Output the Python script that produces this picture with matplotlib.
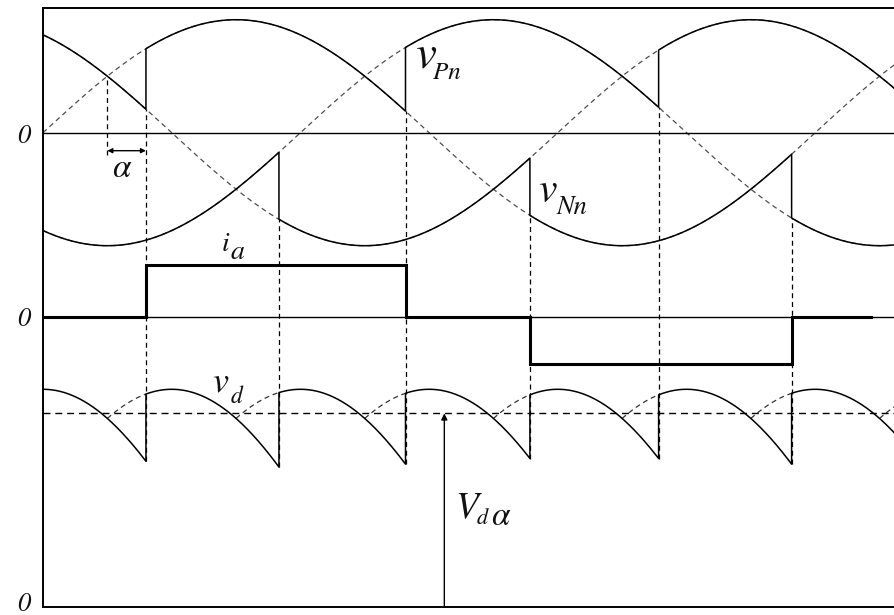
import numpy as np
import matplotlib.pyplot as plt

# three phase voltages, 1 p.u. amplitude, shifted in degrees
phase_names = ['a', 'b', 'c']
phase_shift = [0, 120, 240]

# upper (P) thyristor group: firing instants and phase taking over (deg)
pos_fire = [48, 169, 287, 408]
pos_phase = ['a', 'b', 'c', 'a']
pos_nat = [30, 150, 270, 390]
pos_first = 'c'
# lower (N) thyristor group
neg_fire = [110, 227, 349]
neg_phase = ['c', 'a', 'b']
neg_nat = [90, 210, 330]
neg_first = 'b'

# line current i_a (step levels between edges)
ia_edges = [0, 48, 169, 227, 349, 386]
ia_level = [0, 1.03, 0, -0.95, 0]

# mean dc voltage, same units as v_d
vd_mean = 1.54

# layout of the three stacked traces
T_MAX = 397.2
PH_ZERO, PH_AMP = 474.3, 113
IA_ZERO, IA_AMP = 290.3, 50
VD_AMP = 125.7

shift = dict(zip(phase_names, phase_shift))


def ph(name, th):
    return np.sin(np.radians(np.asarray(th, dtype=float) - shift[name]))


def group_at(th, first, fires, names):
    cur = first
    for f, n in zip(fires, names):
        if th >= f:
            cur = n
    return cur


def P_at(th):
    return group_at(th, pos_first, pos_fire, pos_phase)


def N_at(th):
    return group_at(th, neg_first, neg_fire, neg_phase)


W, H = 895, 615
fig = plt.figure(figsize=(W / 100, H / 100), dpi=100)
ax = fig.add_axes([43 / W, 8 / H, 1 - 43 / W, 599 / H])
ax.set_xlim(0, T_MAX)
ax.set_ylim(0, 599)
ax.set_xticks([])
ax.set_yticks([])
ax.spines['right'].set_visible(False)
for s in ['left', 'top', 'bottom']:
    ax.spines[s].set_linewidth(1.4)

dash_thin = (0, (4, 3))
th_all = np.linspace(0, T_MAX, 800)

# full phase voltages, dashed
for n in phase_names:
    ax.plot(th_all, PH_ZERO + PH_AMP * ph(n, th_all), color='#4d4d4d',
            lw=0.9, ls=dash_thin, zorder=1)

ax.axhline(PH_ZERO, color='k', lw=1.0, zorder=2)
ax.axhline(IA_ZERO, color='k', lw=1.0, zorder=2)


def envelope(first, fires, names):
    edges = [0] + [f for f in fires if f < T_MAX] + [T_MAX]
    seq = [first] + names
    xs, ys = [], []
    for i in range(len(edges) - 1):
        t = np.linspace(edges[i], edges[i + 1], 200)
        xs.append(t)
        ys.append(ph(seq[i], t))
    return np.concatenate(xs), np.concatenate(ys)


x, y = envelope(pos_first, pos_fire, pos_phase)
ax.plot(x, PH_ZERO + PH_AMP * y, color='k', lw=1.1, zorder=3)
x, y = envelope(neg_first, neg_fire, neg_phase)
ax.plot(x, PH_ZERO + PH_AMP * y, color='k', lw=1.1, zorder=3)

# dc voltage v_d = v_Pn - v_Nn
events = sorted([f for f in pos_fire + neg_fire if f < T_MAX])
edges = [0] + events + [T_MAX]
xs, ys = [], []
for i in range(len(edges) - 1):
    t = np.linspace(edges[i], edges[i + 1], 200)
    mid = 0.5 * (edges[i] + edges[i + 1])
    xs.append(t)
    ys.append(ph(P_at(mid), t) - ph(N_at(mid), t))
ax.plot(np.concatenate(xs), VD_AMP * np.concatenate(ys), color='k', lw=1.1, zorder=3)

# next line voltage from natural commutation up to firing, dashed
for nat, f, newp in zip(pos_nat, pos_fire, pos_phase):
    if nat < T_MAX:
        t = np.linspace(nat, min(f, T_MAX), 60)
        ax.plot(t, VD_AMP * (ph(newp, t) - ph(N_at(nat), t)), color='#333333',
                lw=0.9, ls=dash_thin, zorder=2)
for nat, f, newn in zip(neg_nat, neg_fire, neg_phase):
    if nat < T_MAX:
        t = np.linspace(nat, min(f, T_MAX), 60)
        ax.plot(t, VD_AMP * (ph(P_at(nat), t) - ph(newn, t)), color='#333333',
                lw=0.9, ls=dash_thin, zorder=2)

# vertical dashed guides at every firing instant
eps = 1e-6
for f, newp in zip(pos_fire, pos_phase):
    if f >= T_MAX:
        continue
    oldp, n = P_at(f - eps), N_at(f)
    top = PH_ZERO + PH_AMP * min(ph(oldp, f), ph(newp, f))
    low = VD_AMP * min(ph(oldp, f) - ph(n, f), ph(newp, f) - ph(n, f))
    ax.vlines(f, low, top, color='k', lw=0.9, linestyles=dash_thin, zorder=1)
for f, newn in zip(neg_fire, neg_phase):
    if f >= T_MAX:
        continue
    oldn, p = N_at(f - eps), P_at(f)
    top = PH_ZERO + PH_AMP * min(ph(oldn, f), ph(newn, f))
    low = VD_AMP * min(ph(p, f) - ph(oldn, f), ph(p, f) - ph(newn, f))
    ax.vlines(f, low, top, color='k', lw=0.9, linestyles=dash_thin, zorder=1)

# line current
ia_x = [ia_edges[0]]
ia_y = [ia_level[0]]
for i, lev in enumerate(ia_level):
    ia_x += [ia_edges[i], ia_edges[i + 1]]
    ia_y += [lev, lev]
ax.plot(ia_x, IA_ZERO + IA_AMP * np.array(ia_y), color='k', lw=2.2, zorder=4,
        solid_joinstyle='miter')

# mean dc voltage
ax.axhline(VD_AMP * vd_mean, color='k', lw=1.0, ls=(0, (5, 3.5)), zorder=2)
ax.annotate('', xy=(187.1, VD_AMP * vd_mean), xytext=(187.1, 0),
            arrowprops=dict(arrowstyle='-|>', lw=1.0, color='k',
                            mutation_scale=9, shrinkA=0, shrinkB=0))

# firing angle marker
a_top = PH_ZERO + PH_AMP * ph('a', pos_nat[0])
ax.vlines(pos_nat[0], 452, a_top, color='k', lw=0.9, linestyles=dash_thin, zorder=1)
ax.annotate('', xy=(pos_nat[0], 456.3), xytext=(pos_fire[0], 456.3),
            arrowprops=dict(arrowstyle='<|-|>', lw=1.0, color='k',
                            mutation_scale=7, shrinkA=0, shrinkB=0))

font = dict(family='STIXGeneral', style='italic', color='#111111')


def label(xp, yp, s, size):
    fig.text(xp / W, 1 - yp / H, s, fontsize=size, ha='left', va='baseline', **font)


for yp in [143, 326, 611]:
    label(17, yp, '0', 19)
label(415, 68, 'v', 34)
label(433, 79, 'Pn', 18)
label(538, 202, 'v', 30)
label(557, 214, 'Nn', 19)
label(222, 251, 'i', 20)
label(231, 259, 'a', 20)
label(212, 392, 'v', 26)
label(231, 403, 'd', 17)
label(455, 517, 'V', 27)
label(477, 524, 'd', 16)
label(491, 525, 'α', 24)
label(112, 177, 'α', 24)

fig.savefig('out.png', dpi=100)
